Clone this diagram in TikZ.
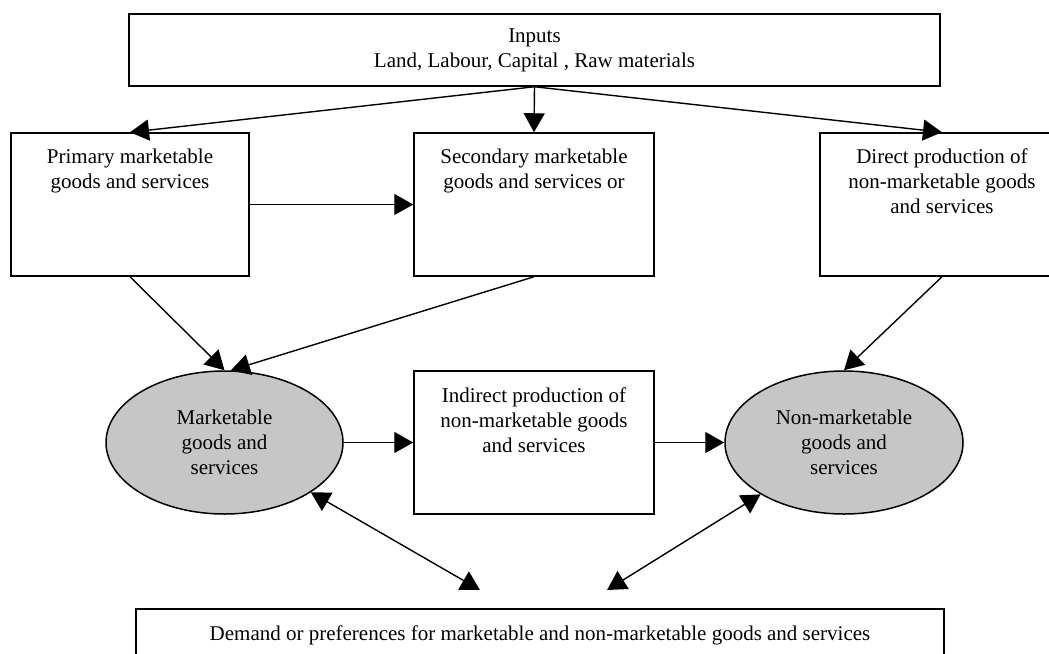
\documentclass[tikz,border=0pt]{standalone}
\usepackage{fontspec}
\setmainfont{Liberation Serif}
\usetikzlibrary{arrows.meta,shapes.geometric}
\begin{document}
\begin{tikzpicture}[x=1pt,y=-1pt,
  every node/.style={font=\fontsize{21}{25}\selectfont},
  boxnode/.style={draw, line width=1.5pt, rectangle, inner sep=0pt},
  ovalnode/.style={draw, line width=1.5pt, ellipse, fill=gray!45, inner sep=0pt, align=center},
  txt/.style={anchor=north, align=center, inner sep=0pt},
  arr/.style={line width=1.4pt, -{Triangle[length=19pt,width=21pt]}},
  darr/.style={line width=1.4pt, {Triangle[length=19pt,width=21pt]}-{Triangle[length=19pt,width=21pt]}}
]
\useasboundingbox (0,0) rectangle (1049,653);
\clip (0,0) rectangle (1049,653);
% boxes
\node[boxnode, minimum width=811pt, minimum height=72pt] (in) at (534.5,50) {};
\node[txt] (intx) at (534.5,29) {Inputs\\Land, Labour, Capital , Raw materials};
\node[boxnode, minimum width=238pt, minimum height=143pt] (prim) at (130,204.5) {};
\node[txt] (primtx) at (130,149) {Primary marketable\\goods and services};
\node[boxnode, minimum width=240pt, minimum height=143pt] (sec) at (534,204.5) {};
\node[txt] (sectx) at (534,149) {Secondary marketable\\goods and services or};
\node[boxnode, minimum width=244pt, minimum height=143pt] (dir) at (942,204.5) {};
\node[txt] (dirtx) at (942,149) {Direct production of\\non-marketable goods\\and services};
\node[ovalnode, minimum width=237pt, minimum height=143pt] (mk) at (224.5,442.5) {Marketable\\goods and\\services};
\node[boxnode, minimum width=240pt, minimum height=143pt] (ind) at (534,442.5) {};
\node[txt] (indtx) at (534,388) {Indirect production of\\non-marketable goods\\and services};
\node[ovalnode, minimum width=238pt, minimum height=143pt] (nm) at (844,442.5) {Non-marketable\\goods and\\services};
\node[boxnode, minimum width=808pt, minimum height=80pt] (dem) at (540,649) {};
\node[anchor=base, inner sep=0pt] (demtx) at (540,640) {Demand or preferences for marketable and non-marketable goods and services};
% connectors
\coordinate (c1) at (480,590);
\coordinate (c2) at (607,590);
\draw[arr] (in.south) -- (prim.north);
\draw[arr] (in.south) -- (sec.north);
\draw[arr] (in.south) -- (dir.north);
\draw[arr] (prim.east) -- (sec.west);
\draw[arr] (prim.south) -- (mk.north);
\draw[arr] (sec.south) -- (mk.85);
\draw[arr] (dir.south) -- (nm.north);
\draw[arr] (mk.east) -- (ind.west);
\draw[arr] (ind.east) -- (nm.west);
\draw[darr] (mk) -- (c1);
\draw[darr] (nm) -- (c2);
\end{tikzpicture}
\end{document}
